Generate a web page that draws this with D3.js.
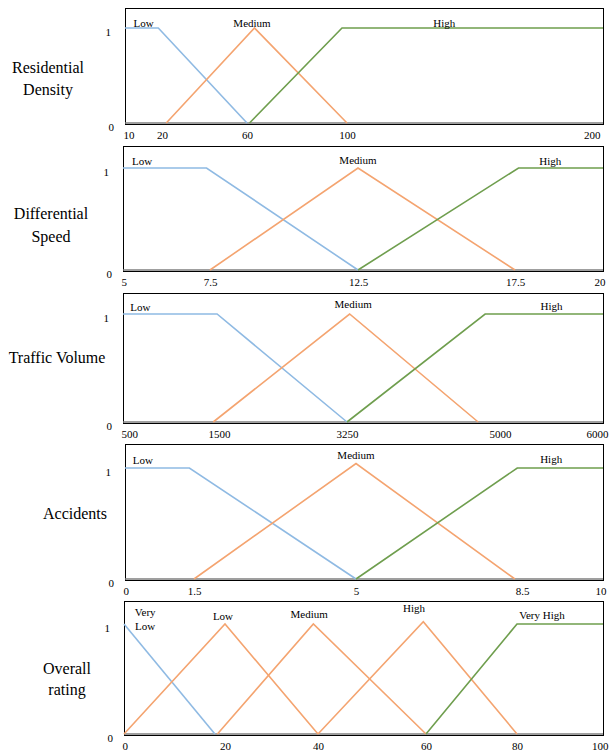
<!DOCTYPE html>
<html>
<head>
<meta charset="utf-8">
<script src="https://cdn.jsdelivr.net/npm/d3@7"></script>
<style>
  html, body { margin: 0; padding: 0; background: #fff; }
  svg { display: block; }
</style>
</head>
<body>
<script>
// ---------- DATA ----------
const titles = [["Residential", "Density"], ["Differential", "Speed"], ["Traffic Volume"], ["Accidents"], ["Overall", "rating"]];

// Residential Density
const rdTicks = [10, 20, 60, 100, 200];
const rdLow = [[10, 1], [19, 1], [60, 0]];
const rdMedium = [[22, 0], [63, 1], [100, 0]];
const rdHigh = [[61, 0], [98, 1], [200, 1]];
const rdLabels = ["Low", "Medium", "High"];
const rdLabelAt = [[15, 1.01], [62, 1.01], [138, 1.01]];

// Differential Speed
const dsTicks = [5, 7.5, 12.5, 17.5, 20];
const dsLow = [[5, 1], [7.4, 1], [12.5, 0]];
const dsMedium = [[7.5, 0], [12.5, 1], [17.5, 0]];
const dsHigh = [[12.5, 0], [17.6, 1], [20, 1]];
const dsLabels = ["Low", "Medium", "High"];
const dsLabelAt = [[5.55, 1.03], [12.5, 1.04], [18.5, 1.03]];

// Traffic Volume
const tvTicks = [500, 1500, 3250, 5000, 6000];
const tvLow = [[500, 1], [1480, 1], [3250, 0]];
const tvMedium = [[1440, 0], [3280, 1], [4750, 0]];
const tvHigh = [[3250, 0], [4830, 1], [6000, 1]];
const tvLabels = ["Low", "Medium", "High"];
const tvLabelAt = [[680, 1.03], [3320, 1.055], [5500, 1.04]];

// Accidents
const acTicks = [0, 1.5, 5, 8.5, 10];
const acLow = [[0, 1], [1.4, 1], [5, 0]];
const acMedium = [[1.5, 0], [5, 1.04], [8.35, 0]];
const acHigh = [[5, 0], [8.4, 1], [10, 1]];
const acLabels = ["Low", "Medium", "High"];
const acLabelAt = [[0.39, 1.036], [5, 1.08], [9.04, 1.045]];

// Overall rating
const orTicks = [0, 20, 40, 60, 80, 100];
const orVeryLow = [[0, 1], [18, 0]];
const orLow = [[0, 0], [20, 1], [40, 0]];
const orMedium = [[18.5, 0], [39, 1], [60, 0]];
const orHigh = [[40, 0], [59.5, 1.02], [80, 0]];
const orVeryHigh = [[60, 0], [80, 1], [100, 1]];
const orLabels = ["Very\nLow", "Low", "Medium", "High", "Very High"];
const orLabelAt = [[4.2, 1.07], [19.6, 1.036], [38.1, 1.055], [57.8, 1.11], [85.8, 1.045]];

// ---------- STYLE / LAYOUT ----------
const BLUE = "#8FBAE3", ORANGE = "#F4A470", GREEN = "#6F9E4E";
const SERIF = "'Liberation Serif', 'Times New Roman', serif";
const RIGHT = 603;

const panels = [
  { title: titles[0], ticks: rdTicks, tickPx: [125, 162, 247, 347, RIGHT], series: [rdLow, rdMedium, rdHigh],
    colors: [BLUE, ORANGE, GREEN], labels: rdLabels, labelAt: rdLabelAt, lastDx: -3,
    left: 125, top: 8, bottom: 124, y1: 28, y0: 123, tx: 48, ty: [73, 95] },
  { title: titles[1], ticks: dsTicks, tickPx: [123, 210, 358, 515, RIGHT], series: [dsLow, dsMedium, dsHigh],
    colors: [BLUE, ORANGE, GREEN], labels: dsLabels, labelAt: dsLabelAt, lastDx: 2,
    left: 123, top: 146, bottom: 271, y1: 168, y0: 270, tx: 51, ty: [219, 242] },
  { title: titles[2], ticks: tvTicks, tickPx: [123, 219, 347, 500, RIGHT], series: [tvLow, tvMedium, tvHigh],
    colors: [BLUE, ORANGE, GREEN], labels: tvLabels, labelAt: tvLabelAt, lastDx: 5,
    left: 123, top: 293, bottom: 423, y1: 314, y0: 422, tx: 57, ty: [363] },
  { title: titles[3], ticks: acTicks, tickPx: [125, 194, 356, 522, RIGHT], series: [acLow, acMedium, acHigh],
    colors: [BLUE, ORANGE, GREEN], labels: acLabels, labelAt: acLabelAt, lastDx: 3,
    left: 125, top: 444, bottom: 580, y1: 468, y0: 579, tx: 75, ty: [519] },
  { title: titles[4], ticks: orTicks, tickPx: [124, 225, 318, 426, 517, RIGHT], series: [orVeryLow, orLow, orMedium, orHigh, orVeryHigh],
    colors: [BLUE, ORANGE, ORANGE, ORANGE, GREEN], labels: orLabels, labelAt: orLabelAt, lastDx: 5,
    left: 124, top: 601, bottom: 735, y1: 624, y0: 734, tx: 67, ty: [674, 695] }
];

// ---------- DRAW ----------
const svg = d3.select("body").append("svg").attr("width", 610).attr("height", 754);

panels.forEach(p => {
  const x = d3.scaleLinear().domain(p.ticks).range(p.tickPx);
  const y = d3.scaleLinear().domain([0, 1]).range([p.y0, p.y1]);
  const g = svg.append("g");

  // frame
  g.append("rect")
    .attr("x", p.left + 0.5).attr("y", p.top + 0.5)
    .attr("width", RIGHT - p.left).attr("height", p.bottom - p.top)
    .attr("fill", "none").attr("stroke", "#000").attr("stroke-width", 1);

  // zero baseline
  g.append("line")
    .attr("x1", p.left).attr("x2", RIGHT)
    .attr("y1", y(0)).attr("y2", y(0))
    .attr("stroke", "#7f7f7f").attr("stroke-width", 1.5);

  // membership lines
  const line = d3.line().x(d => x(d[0])).y(d => y(d[1]));
  p.series.forEach((s, i) => {
    g.append("path").attr("d", line(s))
      .attr("fill", "none").attr("stroke", p.colors[i]).attr("stroke-width", 1.6);
  });

  // x axis labels
  const xAxis = d3.axisBottom(x).tickValues(p.ticks).tickSize(0).tickPadding(7).tickFormat(d => String(d));
  const gx = g.append("g").attr("transform", `translate(0,${p.bottom})`).call(xAxis);
  gx.select(".domain").remove();
  gx.attr("font-family", SERIF).attr("font-size", 11);
  const txts = gx.selectAll(".tick text").attr("fill", "#000");
  txts.filter((d, i) => i === 0).attr("text-anchor", "start").attr("dx", -2);
  txts.filter((d, i) => i === p.ticks.length - 1).attr("text-anchor", "end").attr("dx", p.lastDx);

  // y axis labels
  const yAxis = d3.axisLeft(y).tickValues([0, 1]).tickSize(0).tickPadding(14).tickFormat(d3.format("d"));
  const gy = g.append("g").attr("transform", `translate(${p.left},4)`).call(yAxis);
  gy.select(".domain").remove();
  gy.attr("font-family", SERIF).attr("font-size", 11);
  gy.selectAll(".tick text").attr("fill", "#000").attr("dx", d => d === 0 ? 3 : 0);

  // category labels
  p.labels.forEach((lab, i) => {
    const parts = lab.split("\n");
    const t = g.append("text")
      .attr("x", x(p.labelAt[i][0])).attr("y", y(p.labelAt[i][1]))
      .attr("text-anchor", "middle")
      .attr("font-family", SERIF).attr("font-size", 11).attr("fill", "#000");
    parts.forEach((s, k) => {
      t.append("tspan").attr("x", x(p.labelAt[i][0])).attr("dy", k === 0 ? 0 : 14).text(s);
    });
  });

  // title
  p.title.forEach((s, k) => {
    g.append("text")
      .attr("x", p.tx).attr("y", p.ty[k])
      .attr("text-anchor", "middle")
      .attr("font-family", SERIF).attr("font-size", 16).attr("fill", "#000")
      .text(s);
  });
});
</script>
</body>
</html>
